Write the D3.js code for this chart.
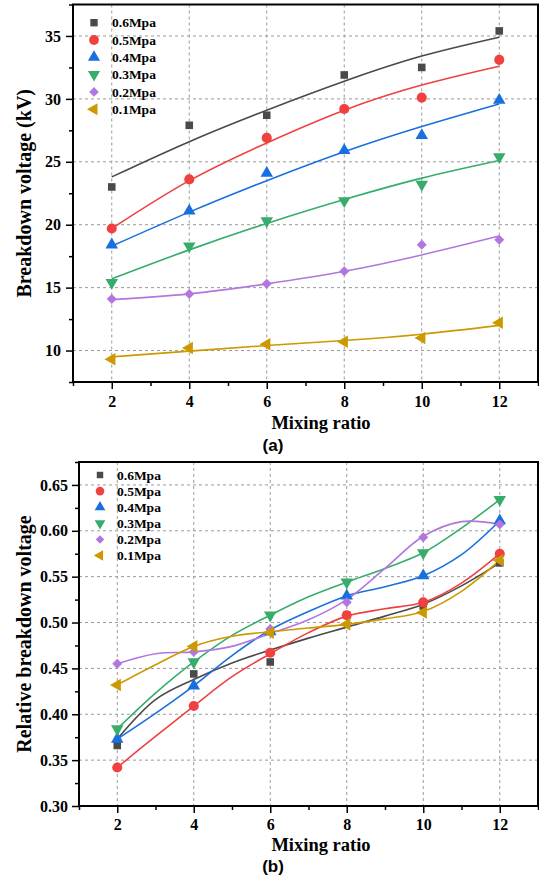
<!DOCTYPE html>
<html>
<head>
<meta charset="utf-8">
<script src="https://cdn.jsdelivr.net/npm/d3@7"></script>
<style>
  html, body { margin: 0; padding: 0; background: #fff; }
  svg { display: block; }
</style>
</head>
<body>
<svg id="chart" width="539" height="875"></svg>
<script>
// ---------------- DATA ----------------
const mixingRatio = [2, 4, 6, 8, 10, 12];
const fitRatioB = [2, 3, 4, 5, 6, 7, 8, 9, 10, 11, 12];
const seriesNames = ["0.6Mpa", "0.5Mpa", "0.4Mpa", "0.3Mpa", "0.2Mpa", "0.1Mpa"];
const xTickLabels = [2, 4, 6, 8, 10, 12];
const yTicksA = [10, 15, 20, 25, 30, 35];
const yTicksB = [0.30, 0.35, 0.40, 0.45, 0.50, 0.55, 0.60, 0.65];

// (a) Breakdown voltage (kV) - measured points
const bv06 = [23.0, 27.9, 28.7, 31.9, 32.5, 35.4];
const bv05 = [19.7, 23.6, 26.9, 29.2, 30.1, 33.1];
const bv04 = [18.4, 21.1, 24.1, 25.9, 27.1, 29.9];
const bv03 = [15.4, 18.3, 20.3, 21.9, 23.2, 25.4];
const bv02 = [14.1, 14.5, 15.3, 16.3, 18.4, 18.8];
const bv01 = [9.3, 10.2, 10.5, 10.7, 11.0, 12.2];
// (a) fitted curves read at the same mixing ratios
const bvFit06 = [23.8, 26.6, 29.1, 31.4, 33.4, 34.9];
const bvFit05 = [19.7, 23.5, 26.5, 29.1, 31.1, 32.6];
const bvFit04 = [18.3, 21.0, 23.5, 25.8, 27.8, 29.6];
const bvFit03 = [15.7, 18.0, 20.1, 22.0, 23.7, 25.1];
const bvFit02 = [14.05, 14.5, 15.3, 16.3, 17.6, 19.1];
const bvFit01 = [9.5, 9.95, 10.4, 10.8, 11.3, 12.0];

// (b) Relative breakdown voltage - measured points
const rb06 = [0.366, 0.444, 0.457, 0.508, 0.518, 0.565];
const rb05 = [0.342, 0.409, 0.467, 0.508, 0.522, 0.575];
const rb04 = [0.373, 0.431, 0.490, 0.529, 0.551, 0.611];
const rb03 = [0.384, 0.457, 0.508, 0.544, 0.576, 0.634];
const rb02 = [0.455, 0.468, 0.493, 0.522, 0.593, 0.607];
const rb01 = [0.432, 0.474, 0.489, 0.498, 0.511, 0.568];
// (b) fitted curves read at mixing ratio 2..12 (step 1)
const rbFit06 = [0.373, 0.416, 0.438, 0.456, 0.470, 0.483, 0.495, 0.507, 0.520, 0.540, 0.565];
const rbFit05 = [0.342, 0.376, 0.409, 0.441, 0.466, 0.489, 0.507, 0.515, 0.522, 0.543, 0.575];
const rbFit04 = [0.373, 0.401, 0.431, 0.464, 0.492, 0.512, 0.529, 0.539, 0.551, 0.574, 0.611];
const rbFit03 = [0.384, 0.423, 0.457, 0.486, 0.508, 0.528, 0.544, 0.559, 0.576, 0.603, 0.634];
const rbFit02 = [0.455, 0.466, 0.468, 0.474, 0.488, 0.503, 0.525, 0.559, 0.594, 0.610, 0.607];
const rbFit01 = [0.432, 0.454, 0.474, 0.485, 0.490, 0.494, 0.498, 0.504, 0.512, 0.534, 0.568];

// ---------------- STYLE ----------------
const colors = ["#4a4a4a", "#F14040", "#1A6FDF", "#37AD6B", "#B177DE", "#CC9900"];
const symbolDefs = [
  { type: d3.symbolSquare, rot: 0, k: 0.72 },
  { type: d3.symbolCircle, rot: 0, k: 1.0 },
  { type: d3.symbolTriangle, rot: 0, k: 0.85 },
  { type: d3.symbolTriangle, rot: 180, k: 0.85 },
  { type: d3.symbolSquare, rot: 45, k: 0.62 },
  { type: d3.symbolTriangle, rot: -90, k: 0.85 }
];
const serif = "'Liberation Serif', 'Times New Roman', serif";
const sans = "'Liberation Sans', Arial, sans-serif";

const svg = d3.select("#chart");

function drawPanel(cfg) {
  const g = svg.append("g");
  const x = d3.scaleLinear().domain([1, 13]).range([cfg.left, cfg.right]);
  const y = d3.scaleLinear().domain(cfg.yDomain).range([cfg.bottom, cfg.top]);

  // grid
  g.append("g").selectAll("line").data(xTickLabels).join("line")
    .attr("x1", d => x(d)).attr("x2", d => x(d))
    .attr("y1", cfg.top).attr("y2", cfg.bottom)
    .attr("stroke", "#9a9a9a").attr("stroke-width", 1).attr("stroke-dasharray", "3,3");
  g.append("g").selectAll("line").data(cfg.yTicks.filter(v => v > cfg.yDomain[0] + 1e-9)).join("line")
    .attr("x1", cfg.left).attr("x2", cfg.right)
    .attr("y1", d => y(d)).attr("y2", d => y(d))
    .attr("stroke", "#9a9a9a").attr("stroke-width", 1).attr("stroke-dasharray", "3,3");

  // minor ticks
  const minorX = d3.range(1, 14, 2);
  g.append("g").attr("transform", `translate(0,${cfg.bottom})`)
    .call(d3.axisBottom(x).tickValues(minorX).tickSize(4).tickFormat(""))
    .call(a => a.select(".domain").remove())
    .selectAll("line").attr("stroke-width", 1.5);
  g.append("g").attr("transform", `translate(${cfg.left},0)`)
    .call(d3.axisLeft(y).tickValues(cfg.minorY).tickSize(4).tickFormat(""))
    .call(a => a.select(".domain").remove())
    .selectAll("line").attr("stroke-width", 1.5);

  // major axes
  const xAxis = g.append("g").attr("transform", `translate(0,${cfg.bottom})`)
    .call(d3.axisBottom(x).tickValues(xTickLabels).tickSize(7).tickPadding(cfg.xPad).tickFormat(d3.format("d")));
  xAxis.select(".domain").remove();
  xAxis.selectAll("line").attr("stroke-width", 1.5);
  xAxis.selectAll("text").attr("font-family", serif).attr("font-weight", "bold")
    .attr("font-size", 16).attr("fill", "#000");

  const yAxis = g.append("g").attr("transform", `translate(${cfg.left},0)`)
    .call(d3.axisLeft(y).tickValues(cfg.yTicks).tickSize(7).tickPadding(cfg.yPad).tickFormat(cfg.yFormat));
  yAxis.select(".domain").remove();
  yAxis.selectAll("line").attr("stroke-width", 1.5);
  yAxis.selectAll("text").attr("font-family", serif).attr("font-weight", "bold")
    .attr("font-size", 16).attr("fill", "#000");

  // curves
  const line = d3.line().curve(cfg.curve).x(d => x(d[0])).y(d => y(d[1]));
  cfg.fits.forEach((fit, i) => {
    g.append("path")
      .datum(cfg.fitX.map((xv, j) => [xv, fit[j]]))
      .attr("d", line).attr("fill", "none")
      .attr("stroke", colors[i]).attr("stroke-width", 1.6);
  });

  // points
  cfg.points.forEach((pts, i) => {
    const sym = d3.symbol().type(symbolDefs[i].type).size(cfg.markerSize * symbolDefs[i].k);
    g.append("g").selectAll("path").data(mixingRatio.map((xv, j) => [xv, pts[j]])).join("path")
      .attr("d", sym)
      .attr("transform", d => `translate(${x(d[0])},${y(d[1])}) rotate(${symbolDefs[i].rot})`)
      .attr("fill", colors[i]);
  });

  // frame
  g.append("rect").attr("x", cfg.left).attr("y", cfg.top)
    .attr("width", cfg.right - cfg.left).attr("height", cfg.bottom - cfg.top)
    .attr("fill", "none").attr("stroke", "#000").attr("stroke-width", 2);

  // legend
  seriesNames.forEach((name, i) => {
    const ly = cfg.legY + i * cfg.legStep;
    g.append("path")
      .attr("d", d3.symbol().type(symbolDefs[i].type).size(cfg.legSize * symbolDefs[i].k)())
      .attr("transform", `translate(${cfg.legX},${ly}) rotate(${symbolDefs[i].rot})`)
      .attr("fill", colors[i]);
    g.append("text").attr("x", cfg.legX + cfg.legTextDx).attr("y", ly).attr("dy", "0.35em")
      .attr("font-family", serif).attr("font-weight", "bold").attr("font-size", 13.5)
      .text(name);
  });

  // axis titles
  g.append("text").attr("x", 321).attr("y", cfg.xTitleY)
    .attr("text-anchor", "middle").attr("font-family", serif).attr("font-weight", "bold")
    .attr("font-size", 18.5).text("Mixing ratio");
  g.append("text")
    .attr("transform", `translate(31,${(cfg.top + cfg.bottom) / 2}) rotate(-90)`)
    .attr("text-anchor", "middle").attr("font-family", serif).attr("font-weight", "bold")
    .attr("font-size", 20).text(cfg.yTitle);
  g.append("text").attr("x", 273).attr("y", cfg.panelY)
    .attr("text-anchor", "middle").attr("font-family", sans).attr("font-weight", "bold")
    .attr("font-size", 17).text(cfg.panel);
}

drawPanel({
  left: 73, right: 538, top: 4.5, bottom: 382,
  yDomain: [7.5, 37.5], yTicks: yTicksA, minorY: [7.5, 12.5, 17.5, 22.5, 27.5, 32.5, 37.5],
  yFormat: d3.format("d"), yPad: 5, xPad: 7,
  points: [bv06, bv05, bv04, bv03, bv02, bv01],
  fits: [bvFit06, bvFit05, bvFit04, bvFit03, bvFit02, bvFit01],
  fitX: mixingRatio, curve: d3.curveNatural,
  markerSize: 80,
  legX: 94, legY: 22.7, legStep: 17.3, legSize: 75, legTextDx: 18,
  yTitle: "Breakdown voltage (kV)", panel: "(a)", panelY: 450.5, xTitleY: 429
});

drawPanel({
  left: 79, right: 538, top: 462, bottom: 806,
  yDomain: [0.30, 0.675], yTicks: yTicksB,
  minorY: [0.325, 0.375, 0.425, 0.475, 0.525, 0.575, 0.625, 0.675],
  yFormat: d3.format(".2f"), yPad: 4, xPad: 5.5,
  points: [rb06, rb05, rb04, rb03, rb02, rb01],
  fits: [rbFit06, rbFit05, rbFit04, rbFit03, rbFit02, rbFit01],
  fitX: fitRatioB, curve: d3.curveCatmullRom.alpha(0.5),
  markerSize: 80,
  legX: 100, legY: 475, legStep: 16.1, legSize: 58, legTextDx: 17,
  yTitle: "Relative breakdown voltage", panel: "(b)", panelY: 872, xTitleY: 850.5
});
</script>
</body>
</html>
